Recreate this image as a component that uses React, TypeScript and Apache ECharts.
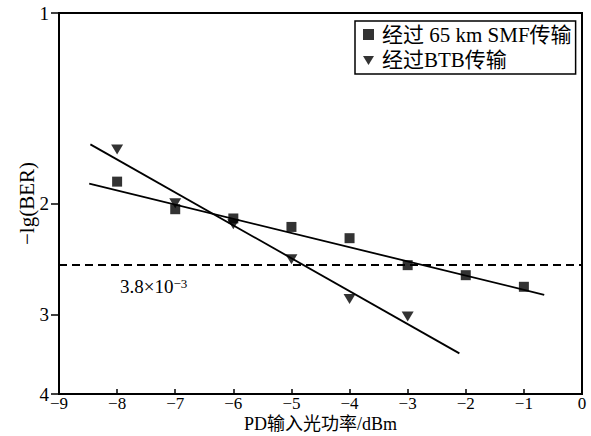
import React, { useEffect, useRef } from "react";
import * as echarts from "echarts";

const smfX = [-8, -7, -6, -5, -4, -3, -2, -1];
const smfY = [1.847, 2.042, 2.112, 2.178, 2.269, 2.503, 2.596, 2.708];
const btbX = [-8, -7, -6, -5, -4, -3];
const btbY = [1.643, 1.998, 2.157, 2.449, 2.832, 3.016];

// Fitted trend lines (end points)
const smfFitX = [-8.48, -0.65];
const smfFitY = [1.86, 2.788];
const btbFitX = [-8.46, -2.11];
const btbFitY = [1.613, 3.45];

const threshold = 2.5;
const xTicks = [-9, -8, -7, -6, -5, -4, -3, -2, -1, 0];
const yTicks = [1, 2, 3, 4];

const smfName = "经过 65 km SMF传输";
const btbName = "经过BTB传输";

const FONT = "'Liberation Serif', 'Times New Roman', 'Noto Sans CJK SC', serif";
const TRI = "path://M0,0L12,0L6,10Z";

const zip = (xs: number[], ys: number[]) => xs.map((x, i) => [x, ys[i]]);
const minus = (v: number) => String(v).replace("-", "\u2212");

export default function App() {
  const ref = useRef<HTMLDivElement>(null);
  useEffect(() => {
    if (!ref.current) return;
    const chart = echarts.init(ref.current, undefined, { renderer: "svg" });
    chart.setOption({
      animation: false,
      backgroundColor: "#fff",
      textStyle: { fontFamily: FONT, color: "#000" },
      grid: {
        left: 59,
        right: 9,
        top: 13,
        bottom: 42,
        show: true,
        outerBoundsMode: "none",
        containLabel: false,
        borderColor: "#000",
        borderWidth: 2,
        backgroundColor: "transparent",
      },
      legend: {
        orient: "vertical",
        left: 355,
        top: 21,
        borderColor: "#000",
        borderWidth: 1.5,
        borderRadius: 0,
        padding: [3, 4, 3, 8],
        itemGap: 5,
        itemWidth: 11,
        itemHeight: 11,
        backgroundColor: "#fff",
        textStyle: { fontFamily: FONT, fontSize: 21, color: "#000", padding: [0, 0, 0, 3] },
        data: [
          { name: smfName, icon: "rect" },
          { name: btbName, icon: TRI },
        ],
      },
      xAxis: {
        type: "value",
        min: -9,
        max: 0,
        interval: 1,
        name: "PD输入光功率/dBm",
        nameLocation: "middle",
        nameGap: 21,
        nameMoveOverlap: false,
        nameTextStyle: { fontFamily: FONT, fontSize: 18, color: "#000" },
        axisLine: { show: true, onZero: false, lineStyle: { color: "#000", width: 2 } },
        axisTick: { show: true, inside: true, length: 5, lineStyle: { color: "#000", width: 1.5 } },
        axisLabel: {
          fontFamily: FONT,
          fontSize: 17,
          color: "#000",
          margin: 1,
          customValues: xTicks,
          formatter: (v: number) => minus(v),
        },
        splitLine: { show: false },
      },
      yAxis: {
        type: "log",
        logBase: 10,
        min: 1,
        max: 4,
        inverse: true,
        name: "\u2212lg(BER)",
        nameLocation: "middle",
        nameGap: 22,
        nameMoveOverlap: false,
        nameRotate: 90,
        nameTextStyle: { fontFamily: FONT, fontSize: 21, color: "#000" },
        axisLine: { show: true, onZero: false, lineStyle: { color: "#000", width: 2 } },
        axisTick: { show: true, inside: false, length: 8, customValues: yTicks, lineStyle: { color: "#000", width: 1.5 } },
        axisLabel: {
          fontFamily: FONT,
          fontSize: 19,
          color: "#000",
          margin: 10,
          customValues: yTicks,
          formatter: (v: number) => String(Math.round(v)),
        },
        splitLine: { show: false },
        minorTick: { show: false },
      },
      graphic: [
        {
          type: "text",
          left: 120,
          top: 277,
          style: {
            text: "{a|3.8×10}{b|\u22123}",
            rich: {
              a: { fontFamily: FONT, fontSize: 19, fill: "#000", verticalAlign: "bottom" },
              b: { fontFamily: FONT, fontSize: 13, fill: "#000", verticalAlign: "top" },
            },
          },
        },
      ],
      series: [
        {
          name: "thr",
          type: "line",
          data: [],
          markLine: {
            silent: true,
            symbol: "none",
            label: { show: false },
            lineStyle: { color: "#000", width: 2, type: [8, 5] },
            data: [{ yAxis: threshold }],
          },
        },
        {
          name: "smfFit",
          type: "line",
          data: zip(smfFitX, smfFitY),
          showSymbol: false,
          symbol: "none",
          lineStyle: { color: "#000", width: 1.8 },
          z: 2,
        },
        {
          name: "btbFit",
          type: "line",
          data: zip(btbFitX, btbFitY),
          showSymbol: false,
          symbol: "none",
          lineStyle: { color: "#000", width: 1.8 },
          z: 2,
        },
        {
          name: smfName,
          type: "scatter",
          data: zip(smfX, smfY),
          symbol: "rect",
          symbolSize: 10,
          itemStyle: { color: "#000" },
          z: 3,
        },
        {
          name: btbName,
          type: "scatter",
          data: zip(btbX, btbY),
          symbol: TRI,
          symbolSize: [12, 10],
          itemStyle: { color: "#000" },
          z: 3,
        },
      ],
    });
    return () => chart.dispose();
  }, []);
  return <div ref={ref} style={{ width: 591, height: 436, position: "absolute", left: 0, top: 0 }} />;
}
